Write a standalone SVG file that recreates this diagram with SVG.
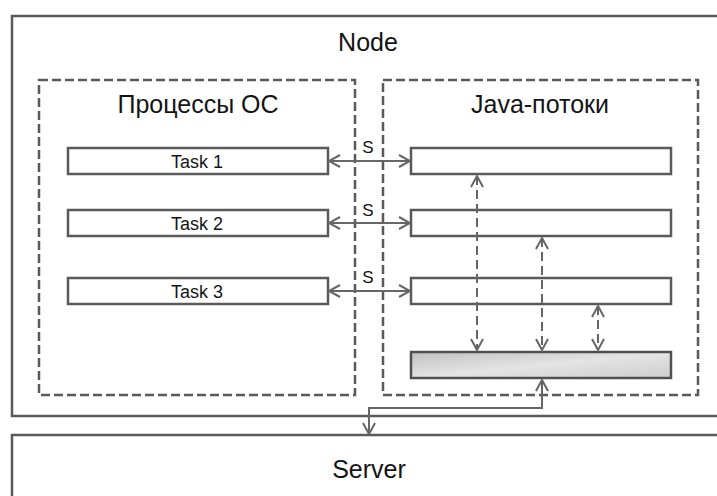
<svg xmlns="http://www.w3.org/2000/svg" width="717" height="496" viewBox="0 0 717 496">
  <style>
    .box { fill: #ffffff; stroke: #5a5a5a; stroke-width: 2.5; }
    .group { fill: none; stroke: #5a5a5a; stroke-width: 2.5; stroke-dasharray: 9 4; }
    .lbl { font-family: "Liberation Sans", Arial, sans-serif; fill: #141414; text-anchor: middle; }
    .big { font-size: 25px; }
    .task { font-size: 18px; }
    .s { font-size: 17px; }
    .link { fill: none; stroke: #666666; stroke-width: 2; }
    .dash { stroke-dasharray: 9 5; }
  </style>
  <defs>
    <marker id="chev" viewBox="0 0 14 14" refX="12" refY="7" markerWidth="14" markerHeight="14" markerUnits="userSpaceOnUse" orient="auto-start-reverse">
      <path d="M1,1 L12,7 L1,13" fill="none" stroke="#666666" stroke-width="2"/>
    </marker>
    <linearGradient id="shade" x1="0" y1="0" x2="1" y2="1">
      <stop offset="0" stop-color="#c0c0c0"/>
      <stop offset="0.5" stop-color="#e4e4e4"/>
      <stop offset="1" stop-color="#cdcdcd"/>
    </linearGradient>
  </defs>
  <rect width="717" height="496" fill="#ffffff"/>

  <g id="node">
    <rect class="box" x="12" y="16" width="720" height="400"/>
    <text class="lbl big" x="368" y="51">Node</text>
  </g>

  <g id="server">
    <rect class="box" x="12" y="435" width="720" height="80"/>
    <text class="lbl big" x="369" y="478">Server</text>
  </g>

  <g id="os-processes">
    <rect class="group" x="39" y="80" width="316" height="315"/>
    <text class="lbl big" x="198" y="113">Процессы ОС</text>
  </g>

  <g id="java-threads">
    <rect class="group" x="383" y="80" width="315" height="315"/>
    <text class="lbl big" x="540" y="113">Java-потоки</text>
  </g>

  <g id="task1">
    <rect class="box" x="68" y="148" width="260" height="26"/>
    <text class="lbl task" x="197" y="168">Task 1</text>
  </g>
  <g id="task2">
    <rect class="box" x="68" y="210" width="260" height="26"/>
    <text class="lbl task" x="197" y="230">Task 2</text>
  </g>
  <g id="task3">
    <rect class="box" x="68" y="278" width="260" height="26"/>
    <text class="lbl task" x="197" y="298">Task 3</text>
  </g>

  <g id="thread1">
    <rect class="box" x="411" y="148" width="260" height="26"/>
  </g>
  <g id="thread2">
    <rect class="box" x="411" y="210" width="260" height="26"/>
  </g>
  <g id="thread3">
    <rect class="box" x="411" y="278" width="260" height="26"/>
  </g>
  <g id="shared">
    <rect x="411" y="352" width="260" height="26" fill="url(#shade)" stroke="#505050" stroke-width="2.5"/>
  </g>

  <g id="connectors">
    <line class="link" x1="329" y1="161" x2="410" y2="161" marker-start="url(#chev)" marker-end="url(#chev)"/>
    <line class="link" x1="329" y1="223" x2="410" y2="223" marker-start="url(#chev)" marker-end="url(#chev)"/>
    <line class="link" x1="329" y1="291" x2="410" y2="291" marker-start="url(#chev)" marker-end="url(#chev)"/>
    <text class="lbl s" x="368" y="153">S</text>
    <text class="lbl s" x="368" y="216">S</text>
    <text class="lbl s" x="368" y="283">S</text>

    <line class="link dash" x1="477" y1="176" x2="477" y2="350" marker-start="url(#chev)" marker-end="url(#chev)"/>
    <line class="link dash" x1="542" y1="238" x2="542" y2="350" marker-start="url(#chev)" marker-end="url(#chev)"/>
    <line class="link dash" x1="598" y1="306" x2="598" y2="350" marker-start="url(#chev)" marker-end="url(#chev)"/>

    <path class="link" d="M542,380 V408 H369 V434" marker-start="url(#chev)" marker-end="url(#chev)"/>
  </g>
</svg>
